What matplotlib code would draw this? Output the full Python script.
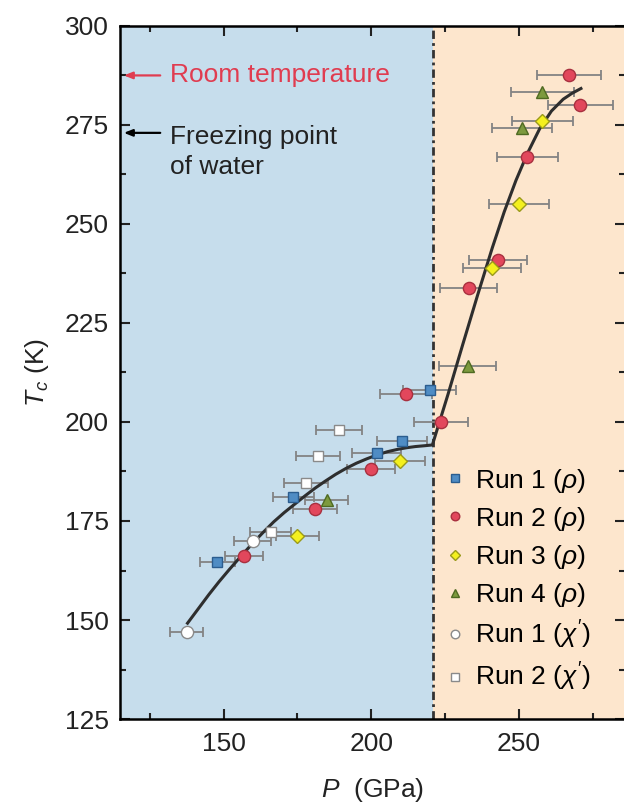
import numpy as np
import matplotlib.pyplot as plt
from matplotlib.ticker import MultipleLocator

plt.rcParams['font.family'] = ['Liberation Sans', 'DejaVu Sans']
plt.rcParams['mathtext.fontset'] = 'custom'
plt.rcParams['mathtext.rm'] = 'Liberation Sans'
plt.rcParams['mathtext.it'] = 'Liberation Sans:italic'

## ---------- data ----------
p_transition = 221
room_temp = 287.5
freezing = 273

run1_rho_p = [147.9, 173.6, 201.8, 210.5, 219.8]
run1_rho_t = [164.6, 181.0, 192.1, 195.1, 208.2]
run1_rho_err = [6.0, 7.0, 8.3, 8.5, 9.0]

run2_rho_p = [156.8, 180.9, 199.9, 211.9, 223.7, 233.0, 242.9, 252.9, 266.9, 270.8]
run2_rho_t = [166.2, 178.0, 188.1, 207.1, 200.1, 233.9, 240.9, 266.8, 287.6, 280.0]
run2_rho_err = [6.4, 7.5, 8.0, 8.8, 9.2, 9.6, 9.8, 10.2, 10.8, 11.1]

run3_rho_p = [174.9, 209.7, 240.9, 250.0, 257.9]
run3_rho_t = [171.2, 190.1, 238.8, 255.0, 276.1]
run3_rho_err = [7.3, 8.5, 9.9, 10.2, 10.4]

run4_rho_p = [184.9, 232.7, 251.0, 257.9]
run4_rho_t = [180.3, 214.1, 274.2, 283.2]
run4_rho_err = [7.4, 9.6, 10.2, 10.7]

run1_chi_p = [137.6, 159.8]
run1_chi_t = [147.0, 170.0]
run1_chi_err = [5.6, 6.4]

run2_chi_p = [165.9, 177.9, 181.9, 189.0]
run2_chi_t = [172.1, 184.7, 191.3, 198.1]
run2_chi_err = [7.0, 7.3, 7.5, 7.8]

# guide-to-the-eye curve, traced point by point
fit_p = [137.8, 141, 145, 148.5, 152, 156, 160, 163.5, 167, 170.5, 174, 177.5, 181,
         184.5, 188, 191.5, 195, 198.5, 202, 205.5, 209, 212, 215, 218, 220.7,
         226, 231, 236, 241, 245, 249, 253, 257, 261, 265, 268, 271]
fit_t = [149.2, 152.4, 156.4, 159.7, 162.8, 166.2, 169.5, 172.2, 174.8, 177.1, 179.2, 181.3, 183.3,
         185.1, 186.8, 188.3, 189.6, 190.7, 191.7, 192.5, 193.1, 193.5, 193.8, 194.0, 194.2,
         207, 219.6, 232, 244, 253, 261, 268, 274, 278.5, 281.5, 283, 284.2]

labels = ['Run 1 ($\\rho$)', 'Run 2 ($\\rho$)', 'Run 3 ($\\rho$)', 'Run 4 ($\\rho$)',
          "Run 1 ($\\chi'$)", "Run 2 ($\\chi'$)"]

series = [
    (run1_rho_p, run1_rho_t, run1_rho_err, 's', '#4f8cc4', '#2b5d8f', 7.4),
    (run2_rho_p, run2_rho_t, run2_rho_err, 'o', '#e2475c', '#a8303f', 8.8),
    (run3_rho_p, run3_rho_t, run3_rho_err, 'D', '#f4f01e', '#9a9a1a', 7.0),
    (run4_rho_p, run4_rho_t, run4_rho_err, '^', '#7d9a3e', '#4f6a22', 8.8),
    (run1_chi_p, run1_chi_t, run1_chi_err, 'o', 'white', '#8a8a8a', 8.8),
    (run2_chi_p, run2_chi_t, run2_chi_err, 's', 'white', '#8a8a8a', 7.4),
]

FS = 19

## ---------- figure ----------
fig = plt.figure(figsize=(6.24, 8.05), dpi=100)
ax = fig.add_axes([0.1926, 0.1068, 0.8094, 0.861])

ax.axvspan(115, p_transition, color='#c6ddec', zorder=0, lw=0)
ax.axvspan(p_transition, 286, color='#fde6cd', zorder=0, lw=0)
ax.axvline(p_transition, color='#333333', ls=(0, (3, 1.5, 1, 1.5)), lw=2, zorder=1)

ax.plot(fit_p, fit_t, color='#2e2e2e', lw=2.2, zorder=3)

for (p, t, err, mk, fc, ec, ms), lab in zip(series, labels):
    ax.errorbar(p, t, xerr=err, fmt='none', ecolor='#838383', elinewidth=1.3,
                capsize=3.5, capthick=1.3, zorder=2)
    ax.plot(p, t, ls='none', marker=mk, ms=ms, mfc=fc, mec=ec, mew=1.0,
            label=lab, zorder=4)

# reference temperatures
ax.annotate('', xy=(115.3, room_temp), xytext=(129.5, room_temp),
            arrowprops=dict(arrowstyle='-|>,head_length=0.5,head_width=0.2',
                            color='#e03c50', lw=1.6))
ax.text(132, room_temp, 'Room temperature', color='#e03c50', fontsize=FS,
        va='center', ha='left')
ax.annotate('', xy=(115.3, freezing), xytext=(129.5, freezing),
            arrowprops=dict(arrowstyle='-|>,head_length=0.5,head_width=0.2',
                            color='black', lw=1.6))
ax.text(132, 268.2, 'Freezing point\nof water', color='#222222', fontsize=FS,
        va='center', ha='left', linespacing=1.35)

ax.set_xlim(115, 286)
ax.set_ylim(125, 300)
ax.xaxis.set_major_locator(MultipleLocator(50))
ax.xaxis.set_minor_locator(MultipleLocator(25))
ax.yaxis.set_major_locator(MultipleLocator(25))
ax.yaxis.set_minor_locator(MultipleLocator(12.5))
ax.tick_params(which='both', direction='in', top=True, right=True, width=1.5,
               labelsize=FS, colors='#222222')
ax.tick_params(which='major', length=7)
ax.tick_params(which='minor', length=4)
ax.tick_params(axis='x', pad=9)
ax.tick_params(axis='y', pad=8)
for s in ax.spines.values():
    s.set_linewidth(1.8)

ax.set_xlabel('$P$  (GPa)', fontsize=FS, labelpad=15, color='#222222')
ax.set_ylabel('$T_c$ (K)', fontsize=FS, labelpad=10, color='#222222')

ax.legend(loc='lower left', bbox_to_anchor=(0.622, 0.022), frameon=False, fontsize=FS,
          markerscale=0.7, handlelength=0.8, handletextpad=0.35, labelspacing=0.38,
          borderaxespad=0)

fig.savefig('out.png', dpi=100)
